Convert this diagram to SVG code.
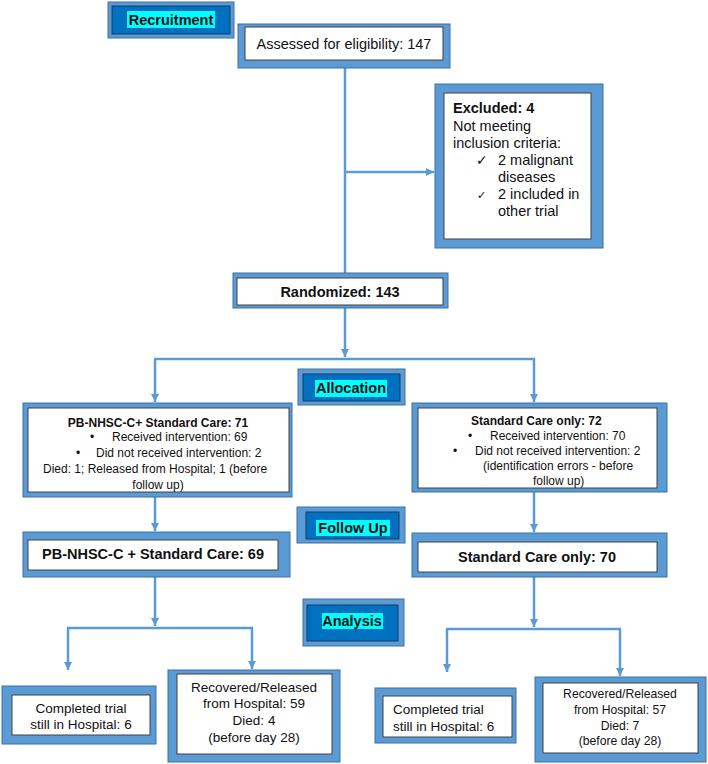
<svg xmlns="http://www.w3.org/2000/svg" width="708" height="764" viewBox="0 0 708 764">
<style>
.o{fill:#5b9bd5;stroke:#41719c;stroke-width:1}
.i{fill:#ffffff;stroke:#404040;stroke-width:1}
.li{fill:#0070c0;stroke:#1f3864;stroke-width:1}
.hl{fill:#00ffff}
.t{font-family:"Liberation Sans",Arial,sans-serif;fill:#111}
.b{font-weight:bold}
.c{text-anchor:middle}
.s12{font-size:12px}
.s14{font-size:14.5px}
.s13{font-size:13.5px}
.ck{font-family:"DejaVu Sans",sans-serif;font-size:14px;fill:#111}
.cn{fill:none;stroke:#5b9bd5;stroke-width:2.5}
.ca{fill:none;stroke:#5b9bd5;stroke-width:2.5;marker-end:url(#ah)}
</style>
<defs>
<marker id="ah" viewBox="0 0 10 10" refX="10" refY="5" markerWidth="8" markerHeight="8" markerUnits="userSpaceOnUse" orient="auto">
<path d="M0,0 L10,5 L0,10 z" fill="#5b9bd5"/>
</marker>
</defs>
<rect width="708" height="764" fill="#ffffff"/>

<g id="connectors">
<line class="cn" x1="345" y1="68" x2="345" y2="273"/>
<line class="ca" x1="345" y1="172" x2="434" y2="172"/>
<line class="ca" x1="345" y1="308" x2="345" y2="357"/>
<line class="cn" x1="154" y1="359" x2="535" y2="359"/>
<line class="ca" x1="155" y1="359" x2="155" y2="402"/>
<line class="ca" x1="534" y1="359" x2="534" y2="402"/>
<line class="ca" x1="155" y1="497" x2="155" y2="531"/>
<line class="ca" x1="534" y1="492" x2="534" y2="532"/>
<line class="ca" x1="155" y1="577" x2="155" y2="626"/>
<line class="cn" x1="67" y1="628" x2="253" y2="628"/>
<line class="ca" x1="68" y1="628" x2="68" y2="670"/>
<line class="ca" x1="252" y1="628" x2="252" y2="669"/>
<line class="ca" x1="534" y1="577" x2="534" y2="627"/>
<line class="cn" x1="446" y1="629" x2="621" y2="629"/>
<line class="ca" x1="447" y1="629" x2="447" y2="672"/>
<line class="ca" x1="620" y1="629" x2="620" y2="676"/>
</g>

<g id="recruitment">
<rect class="o" x="108" y="2" width="126" height="36"/>
<rect class="li" x="112" y="6" width="118" height="28"/>
<rect class="hl" x="127" y="11" width="88" height="17"/>
<text class="t b s14 c" x="171" y="25">Recruitment</text>
</g>

<g id="assessed">
<rect class="o" x="238" y="24" width="212" height="44"/>
<rect class="i" x="245" y="27" width="198" height="33"/>
<text class="t s14 c" x="344" y="49">Assessed for eligibility: 147</text>
</g>

<g id="excluded">
<rect class="o" x="435" y="84" width="168" height="164"/>
<rect class="i" x="444" y="93" width="147" height="146"/>
<text class="t b s14" x="453" y="113">Excluded: 4</text>
<text class="t s14" x="453" y="131">Not meeting</text>
<text class="t s14" x="453" y="148">inclusion criteria:</text>
<text class="ck" x="476" y="165">✓</text>
<text class="t s14" x="498" y="165">2 malignant</text>
<text class="t s14" x="498" y="182">diseases</text>
<text class="ck" x="477" y="199" style="font-size:11px">✓</text>
<text class="t s14" x="498" y="199">2 included in</text>
<text class="t s14" x="498" y="216">other trial</text>
</g>

<g id="randomized">
<rect class="o" x="233" y="273" width="215" height="35"/>
<rect class="i" x="237" y="278" width="206" height="27"/>
<text class="t b s14 c" x="340" y="297">Randomized: 143</text>
</g>

<g id="allocation">
<rect class="o" x="298" y="369" width="107" height="36"/>
<rect class="li" x="303" y="374" width="97" height="27"/>
<rect class="hl" x="315" y="380" width="72" height="17"/>
<text class="t b s14 c" x="351" y="393">Allocation</text>
</g>

<g id="pb-alloc">
<rect class="o" x="23" y="403" width="269" height="94"/>
<rect class="i" x="28" y="408" width="261" height="84"/>
<text class="t b s12 c" x="158" y="427">PB-NHSC-C+ Standard Care: 71</text>
<text class="t s12" x="90" y="441">•</text>
<text class="t s12" x="112" y="441">Received intervention: 69</text>
<text class="t s12" x="76" y="457">•</text>
<text class="t s12" x="96" y="457">Did not received intervention: 2</text>
<text class="t s12" x="43" y="473">Died: 1; Released from Hospital; 1 (before</text>
<text class="t s12 c" x="158" y="489">follow up)</text>
</g>

<g id="std-alloc">
<rect class="o" x="412" y="403" width="255" height="89"/>
<rect class="i" x="418" y="408" width="239" height="80"/>
<text class="t b s12" x="471" y="425">Standard Care only: 72</text>
<text class="t s12" x="468" y="440">•</text>
<text class="t s12" x="490" y="440">Received intervention: 70</text>
<text class="t s12" x="453" y="455">•</text>
<text class="t s12" x="475" y="455">Did not received intervention: 2</text>
<text class="t s12" x="483" y="470">(identification errors - before</text>
<text class="t s12" x="533" y="485">follow up)</text>
</g>

<g id="followup">
<rect class="o" x="297" y="507" width="108" height="36"/>
<rect class="li" x="306" y="512" width="93" height="27"/>
<rect class="hl" x="316" y="520" width="74" height="16"/>
<text class="t b s14 c" x="353" y="533">Follow Up</text>
</g>

<g id="pb-follow">
<rect class="o" x="23" y="532" width="267" height="45"/>
<rect class="i" x="28" y="540" width="250" height="30"/>
<text class="t b s14 c" x="153" y="559">PB-NHSC-C + Standard Care: 69</text>
</g>

<g id="std-follow">
<rect class="o" x="412" y="533" width="255" height="44"/>
<rect class="i" x="418" y="542" width="239" height="30"/>
<text class="t b s14 c" x="537" y="562">Standard Care only: 70</text>
</g>

<g id="analysis">
<rect class="o" x="303" y="599" width="101" height="47"/>
<rect class="li" x="307" y="605" width="91" height="36"/>
<rect class="hl" x="322" y="613" width="61" height="16"/>
<text class="t b s14 c" x="352" y="626">Analysis</text>
</g>

<g id="pb-completed">
<rect class="o" x="2" y="686" width="154" height="58"/>
<rect class="i" x="12" y="695" width="138" height="40"/>
<text class="t s13 c" x="81" y="713">Completed trial</text>
<text class="t s13 c" x="81" y="729">still in Hospital: 6</text>
</g>

<g id="pb-recovered">
<rect class="o" x="168" y="670" width="172" height="92"/>
<rect class="i" x="177" y="674" width="155" height="80"/>
<text class="t s13 c" x="254" y="692">Recovered/Released</text>
<text class="t s13 c" x="254" y="708">from Hospital: 59</text>
<text class="t s13 c" x="254" y="725">Died: 4</text>
<text class="t s13 c" x="254" y="742">(before day 28)</text>
</g>

<g id="std-completed">
<rect class="o" x="375" y="688" width="141" height="55"/>
<rect class="i" x="383" y="696" width="129" height="41"/>
<text class="t s13" x="393" y="714">Completed trial</text>
<text class="t s13" x="393" y="731">still in Hospital: 6</text>
</g>

<g id="std-recovered">
<rect class="o" x="535" y="677" width="171" height="85"/>
<rect class="i" x="543" y="683" width="155" height="70"/>
<text class="t c" style="font-size:12.2px" x="620" y="698">Recovered/Released</text>
<text class="t c" style="font-size:12.2px" x="620" y="714">from Hospital: 57</text>
<text class="t c" style="font-size:12.2px" x="620" y="730">Died: 7</text>
<text class="t c" style="font-size:12.2px" x="620" y="745">(before day 28)</text>
</g>
</svg>
